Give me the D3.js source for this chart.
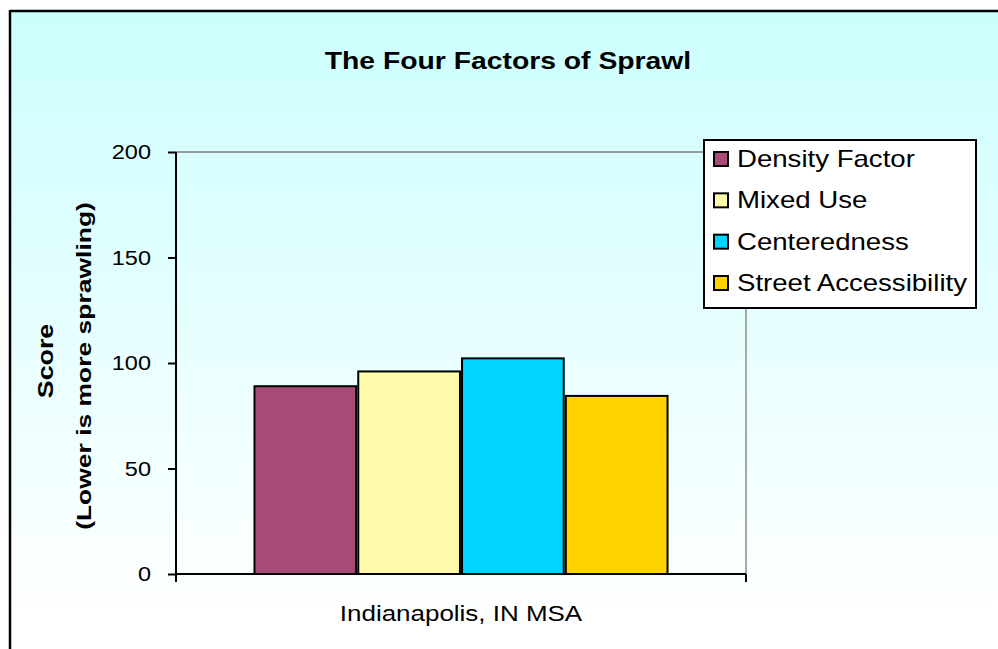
<!DOCTYPE html>
<html><head><meta charset="utf-8">
<script src="https://cdn.jsdelivr.net/npm/d3@7/dist/d3.min.js"></script>
<style>html,body{margin:0;padding:0;background:#fff;}svg{display:block;}</style>
</head><body>
<svg id="chart" width="998" height="649"></svg>
<script>
const title = "The Four Factors of Sprawl";
const categories = ["Indianapolis, IN MSA"];
const seriesNames = ["Density Factor", "Mixed Use", "Centeredness", "Street Accessibility"];
const seriesValues = [89, 96, 102.2, 84.4];
const seriesColors = ["#A84B78", "#FFFBAA", "#00D5FF", "#FFD200"];
const yTicks = [0, 50, 100, 150, 200];
const yLabelLines = ["Score", "(Lower is more sprawling)"];

const svg = d3.select("#chart");
const FONT = "'Liberation Sans', Arial, sans-serif";

const defs = svg.append("defs");
const grad = defs.append("linearGradient").attr("id", "bg").attr("x1", 0).attr("y1", 0).attr("x2", 0).attr("y2", 1);
grad.append("stop").attr("offset", "0%").attr("stop-color", "#ccfefe");
grad.append("stop").attr("offset", "92%").attr("stop-color", "#ffffff");
grad.append("stop").attr("offset", "100%").attr("stop-color", "#ffffff");

// chart area
svg.append("rect").attr("x", 11).attr("y", 11).attr("width", 1000).attr("height", 660).attr("fill", "url(#bg)");
svg.append("line").attr("x1", 10).attr("x2", 998).attr("y1", 11).attr("y2", 11).attr("stroke", "#000").attr("stroke-width", 2.5);
svg.append("line").attr("x1", 10).attr("x2", 10).attr("y1", 10).attr("y2", 649).attr("stroke", "#000").attr("stroke-width", 2.5);

function stretchedText(g, x, y, txt, opts) {
  const o = Object.assign({size: 21, weight: "normal", anchor: "start", rotate: 0, sx: 1.2, baseline: "auto"}, opts || {});
  return g.append("text")
    .attr("transform", `translate(${x},${y}) rotate(${o.rotate}) scale(${o.sx},1)`)
    .attr("font-family", FONT).attr("font-size", o.size).attr("font-weight", o.weight)
    .attr("text-anchor", o.anchor).attr("dominant-baseline", o.baseline)
    .attr("fill", "#000").text(txt);
}

const plot = {left: 176, right: 746, top: 152, bottom: 574};

const y = d3.scaleLinear().domain([0, 200]).range([plot.bottom, plot.top]);
const x0 = d3.scaleBand().domain(categories).range([plot.left, plot.right]).paddingInner(0).paddingOuter(0.19);
const x1 = d3.scaleBand().domain(seriesNames).range([0, x0.bandwidth()]).paddingInner(0.02).paddingOuter(0);

// plot border (top + right gray)
svg.append("line").attr("x1", plot.left).attr("x2", plot.right).attr("y1", y(200)).attr("y2", y(200)).attr("stroke", "#9a9a9a").attr("stroke-width", 2);
svg.append("line").attr("x1", plot.right).attr("x2", plot.right).attr("y1", plot.top).attr("y2", plot.bottom).attr("stroke", "#a8a8a8").attr("stroke-width", 2);

// bars
const barG = svg.append("g");
categories.forEach(cat => {
  barG.selectAll(null).data(seriesNames).enter().append("rect")
    .attr("x", d => x0(cat) + x1(d))
    .attr("y", (d, i) => y(seriesValues[i]))
    .attr("width", x1.bandwidth())
    .attr("height", (d, i) => y(0) - y(seriesValues[i]))
    .attr("fill", (d, i) => seriesColors[i])
    .attr("stroke", "#000").attr("stroke-width", 2);
});

// y axis
const yAxis = d3.axisLeft(y).tickValues(yTicks).tickSize(8).tickPadding(6).tickFormat(d3.format("d"));
const yg = svg.append("g").attr("transform", `translate(${plot.left},0)`).call(yAxis);
yg.select(".domain").attr("stroke", "#000").attr("stroke-width", 2).attr("d", `M0,${plot.top}V${plot.bottom + 8}`);
yg.selectAll(".tick line").attr("stroke", "#000").attr("stroke-width", 2);
yg.selectAll(".tick text").remove();
yTicks.forEach(v => {
  stretchedText(svg, 151, y(v), String(v), {size: 21, anchor: "end", baseline: "central", sx: 1.12});
});

// x axis
const xAxis = d3.axisBottom(x0).tickSize(0).tickFormat("");
const xg = svg.append("g").attr("transform", `translate(0,${plot.bottom})`).call(xAxis);
xg.select(".domain").attr("stroke", "#000").attr("stroke-width", 2).attr("d", `M${plot.left},0H${plot.right}`);
[plot.left, plot.right].forEach(px => {
  xg.append("line").attr("x1", px).attr("x2", px).attr("y1", 0).attr("y2", 8).attr("stroke", "#000").attr("stroke-width", 2);
});
categories.forEach(cat => {
  stretchedText(svg, x0(cat) + x0.bandwidth() / 2, 613, cat, {size: 22, anchor: "middle", baseline: "central", sx: 1.18});
});

// title
stretchedText(svg, 508, 61, title, {size: 24, weight: "bold", anchor: "middle", baseline: "central", sx: 1.18});

// y label
stretchedText(svg, 45, 361, yLabelLines[0], {size: 22, weight: "bold", anchor: "middle", baseline: "central", rotate: -90, sx: 1.22});
stretchedText(svg, 84, 366, yLabelLines[1], {size: 21, weight: "bold", anchor: "middle", baseline: "central", rotate: -90, sx: 1.26});

// legend
const lg = svg.append("g");
lg.append("rect").attr("x", 704).attr("y", 140).attr("width", 272).attr("height", 168).attr("fill", "#fff").attr("stroke", "#000").attr("stroke-width", 2);
const rowY = d3.scalePoint().domain(seriesNames).range([159, 283]);
seriesNames.forEach((s, i) => {
  lg.append("rect").attr("x", 714).attr("y", rowY(s) - 7).attr("width", 14).attr("height", 14)
    .attr("fill", seriesColors[i]).attr("stroke", "#000").attr("stroke-width", 2);
  stretchedText(lg, 737, rowY(s), s, {size: 23, baseline: "central", sx: 1.2});
});
</script>
</body></html>
